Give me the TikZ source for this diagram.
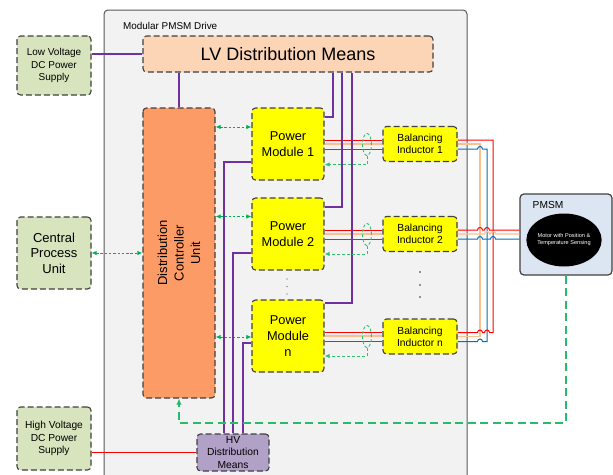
\documentclass[tikz,border=0pt]{standalone}
\usepackage{fontspec}
\setmainfont{Liberation Sans}
\usetikzlibrary{arrows.meta,shapes.geometric}

\definecolor{drivefill}{HTML}{F2F2F2}
\definecolor{driveedge}{HTML}{595959}
\definecolor{edgegray}{HTML}{404040}
\definecolor{lvfill}{HTML}{FBD5B5}
\definecolor{srcfill}{HTML}{D7E4BD}
\definecolor{dcufill}{HTML}{FC9B66}
\definecolor{modfill}{HTML}{FFFF00}
\definecolor{hvfill}{HTML}{B2A1C7}
\definecolor{pmsmfill}{HTML}{DCE6F2}
\definecolor{wirepurple}{HTML}{7030A0}
\definecolor{phasered}{HTML}{FF0000}
\definecolor{phaseorange}{HTML}{FAC090}
\definecolor{phaseblue}{HTML}{0070C0}
\definecolor{sigreen}{HTML}{00B050}

\newcommand\fsz[2]{\fontsize{#1pt}{#2pt}\selectfont}

\begin{document}
\begin{tikzpicture}[x=1pt,y=-1pt,
  basebox/.style={draw=edgegray, line width=1.1pt, dash pattern=on 6pt off 3pt,
    rounded corners=3.5pt, align=center, inner sep=0pt, text=black},
  srcbox/.style={basebox, fill=srcfill, minimum width=74pt},
  lvbox/.style={basebox, fill=lvfill},
  ctrlbox/.style={basebox, fill=dcufill},
  modbox/.style={basebox, fill=modfill, minimum width=72pt, minimum height=72pt, font=\fsz{12.8}{15.6}},
  chokebox/.style={basebox, fill=modfill, minimum width=74pt, minimum height=35pt, font=\fsz{10.3}{11.8}},
  hvbox/.style={basebox, fill=hvfill},
  drivebox/.style={draw=driveedge, fill=drivefill, line width=1pt, rounded corners=4pt},
  motorbox/.style={draw=edgegray, fill=pmsmfill, line width=1.2pt, rounded corners=4pt},
  lvwire/.style={draw=wirepurple, line width=1.1pt},
  hvwire/.style={draw=phasered, line width=1.1pt},
  phred/.style={draw=phasered, line width=1pt},
  phorange/.style={draw=phaseorange, line width=1.2pt},
  phblue/.style={draw=phaseblue, line width=1pt},
  ctrlarrow/.style={draw=sigreen, line width=1pt, dash pattern=on 2.5pt off 1.8pt,
    {Latex[length=5pt,width=4.5pt]}-{Latex[length=5pt,width=4.5pt]}},
  sensering/.style={draw=sigreen!80, line width=0.9pt, dash pattern=on 3pt off 2pt,
    ellipse, minimum width=9pt, minimum height=22pt, inner sep=0pt},
  sensearrow/.style={draw=sigreen!80, line width=0.9pt, dash pattern=on 3pt off 2pt,
    -{Latex[length=5pt,width=4.5pt]}},
  motorarrow/.style={draw=sigreen!85, line width=1.3pt, dash pattern=on 8pt off 4.5pt,
    -{Latex[length=6pt,width=5.5pt]}}
]
\useasboundingbox (0,0) rectangle (613,474);
\clip (0,0) rectangle (613,474);

% drive enclosure
\node[drivebox, minimum width=363pt, minimum height=480pt] (drive) at (285.5,250) {};
\node[anchor=base west, font=\fsz{9.9}{12}, inner sep=0pt] (drivelbl) at (123,29.3) {Modular PMSM Drive};

% external supplies and CPU
\node[srcbox, minimum height=59pt, font=\fsz{10}{12.3}] (lvps) at (54,65.5) {Low Voltage\\DC Power\\Supply};
\node[srcbox, minimum height=72pt, font=\fsz{13}{15.6}] (cpu) at (54,253) {Central\\Process\\Unit};
\node[srcbox, minimum height=63pt, font=\fsz{10.2}{12.3}] (hvps) at (54,438.5) {High Voltage\\DC Power\\Supply};

% distribution blocks
\node[lvbox, minimum width=290pt, minimum height=36pt, font=\fsz{18}{20}] (lv) at (288,54) {LV Distribution Means};
\node[ctrlbox, rotate=90, minimum width=290pt, minimum height=72pt, font=\fsz{13}{16.6}] (dcu) at (179,253) {Distribution\\Controller\\Unit};
\node[hvbox, minimum width=72pt, minimum height=37pt, font=\fsz{10.3}{12.6}] (hv) at (233,452.5) {HV\\Distribution\\Means};

% power modules
\node[modbox] (pm1) at (288,144) {Power\\Module 1};
\node[modbox] (pm2) at (288,234) {Power\\Module 2};
\node[modbox] (pmn) at (288,336) {Power\\Module\\n};

% balancing inductors
\node[chokebox] (bi1) at (420,144) {Balancing\\Inductor 1};
\node[chokebox] (bi2) at (420,234) {Balancing\\Inductor 2};
\node[chokebox] (bin) at (420,336.5) {Balancing\\Inductor n};

% machine
\node[motorbox, minimum width=92pt, minimum height=81pt] (pmsm) at (566,234.5) {};
\node[anchor=base west, font=\fsz{10.2}{12}, inner sep=0pt] (pmsmlbl) at (532.5,208.3) {PMSM};
\node[ellipse, fill=black, text=white, minimum width=65pt, minimum height=53pt, inner sep=0pt,
  align=center, font=\fsz{5.6}{7}] (motor) at (564,240) {Motor with Position \&\\Temperature Sensing};

% ellipsis dots between repeated stages
\foreach \yy in {279,286.5,294} \fill[black!70] (287,\yy) circle (0.6);
\foreach \yy in {272,285,297} \fill[black!80] (420,\yy) circle (0.8);

% supply feeds
\draw[lvwire] (lv.west) -- (lv.west -| lvps.east);
\draw[hvwire] (hv.west) -- (hv.west -| hvps.east);
\draw[lvwire] (lv.south -| dcu.east) -- (dcu.east);

% control links
\draw[ctrlarrow] (cpu.east) -- (dcu.north);
\coordinate (k1) at (0,127);
\coordinate (k2) at (0,216.5);
\coordinate (kn) at (0,337);
\draw[ctrlarrow] (k1 -| dcu.south) -- (k1 -| pm1.west);
\draw[ctrlarrow] (k2 -| dcu.south) -- (k2 -| pm2.west);
\draw[ctrlarrow] (kn -| dcu.south) -- (kn -| pmn.west);

% phase wires between modules and inductors
\foreach \m/\b in {pm1/bi1,pm2/bi2,pmn/bin}{
  \draw[phred] ([yshift=4pt]\m.east) -- ([yshift=4pt]\m.east -| \b.west);
  \draw[phorange] (\m.east) -- (\m.east -| \b.west);
  \draw[phblue] ([yshift=-5pt]\m.east) -- ([yshift=-5pt]\m.east -| \b.west);
}

% output bus: orange x=480, blue x=487, red x=493
\draw[phorange] (bi1.east) -- (480,144) -- (480,336.5) -- (bin.east);
\draw[phblue] ([yshift=-5pt]bi1.east) -- (477.5,149) arc[start angle=180,end angle=360,radius=2.5]
  -- (487,149) -- (487,341.5) -- (482.5,341.5) arc[start angle=0,end angle=-180,radius=2.5]
  -- ([yshift=-5pt]bin.east);
\draw[phred] ([yshift=4pt]bi1.east) -- (493,140) -- (493,332.5) -- (489.5,332.5)
  arc[start angle=0,end angle=-180,radius=2.5] -- (482.5,332.5)
  arc[start angle=0,end angle=-180,radius=2.5] -- ([yshift=4pt]bin.east);

% motor feeders from the bus
\coordinate (r2) at ([yshift=4pt]bi2.east);
\coordinate (o2) at (bi2.east);
\coordinate (b2) at ([yshift=-5pt]bi2.east);
\draw[phred] (r2) -- (477.5,230) arc[start angle=180,end angle=360,radius=2.5]
  -- (484.5,230) arc[start angle=180,end angle=360,radius=2.5] -- (r2 -| pmsm.west);
\draw[phorange] (o2) -- (484.5,234) arc[start angle=180,end angle=360,radius=2.5]
  -- (490.5,234) arc[start angle=180,end angle=360,radius=2.5] -- (o2 -| pmsm.west);
\draw[phblue] (b2) -- (477.5,239) arc[start angle=180,end angle=360,radius=2.5]
  -- (490.5,239) arc[start angle=180,end angle=360,radius=2.5] -- (b2 -| pmsm.west);

% LV supply to the modules
\coordinate (v1) at (333,117);
\coordinate (v2) at (342,207);
\coordinate (v3) at (352,303);
\draw[lvwire] (lv.south -| v1) |- (pm1.east |- v1);
\draw[lvwire] (lv.south -| v2) |- (pm2.east |- v2);
\draw[lvwire] (lv.south -| v3) |- (pmn.east |- v3);

% HV supply to the modules
\coordinate (h1) at (224,162);
\coordinate (h2) at (233,253);
\coordinate (h3) at (243,343);
\draw[lvwire] (hv.north -| h1) |- (pm1.west |- h1);
\draw[lvwire] (hv.north -| h2) |- (pm2.west |- h2);
\draw[lvwire] (hv.north -| h3) |- (pmn.west |- h3);

% current sensing on each stage
\node[sensering] (cs1) at (367,144.5) {};
\node[sensering] (cs2) at (367,234.5) {};
\node[sensering] (csn) at (367,336.5) {};
\coordinate (f1) at (0,164.5);
\coordinate (f2) at (0,254);
\coordinate (fn) at (0,356);
\draw[sensearrow] (cs1.south) |- (pm1.east |- f1);
\draw[sensearrow] (cs2.south) |- (pm2.east |- f2);
\draw[sensearrow] (csn.south) |- (pmn.east |- fn);

% position / temperature feedback
\coordinate (fbc) at (179,423);
\draw[motorarrow] (pmsm.south) |- (fbc) -- (dcu.west);

\end{tikzpicture}
\end{document}
